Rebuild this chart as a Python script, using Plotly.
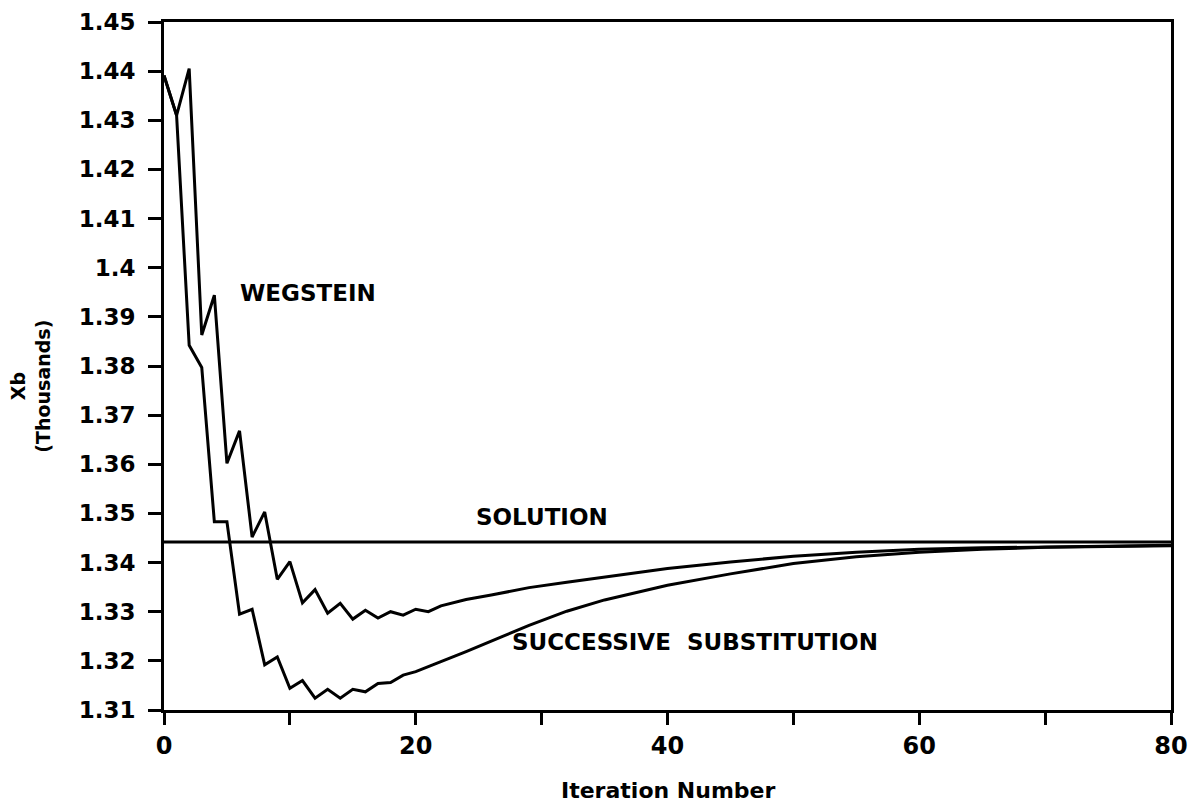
import plotly.graph_objects as go

# ---- data ----
iter_w = [0, 1, 2, 3, 4, 5, 6, 7, 8, 9, 10, 11, 12, 13, 14, 15, 16, 17, 18, 19, 20, 21, 22,
          24, 26, 29, 32, 35, 40, 45, 50, 55, 60, 65, 70, 75, 80]
wegstein = [1.4391, 1.4310, 1.4405, 1.3863, 1.3944, 1.3602, 1.3668, 1.3452, 1.3503, 1.3366,
            1.3402, 1.3318, 1.3345, 1.3297, 1.3317, 1.3285, 1.3303, 1.3287, 1.3300, 1.3293,
            1.3305, 1.3300, 1.3312, 1.3325, 1.3334, 1.3349, 1.3360, 1.3371, 1.3388, 1.3401,
            1.3413, 1.3421, 1.3427, 1.3430, 1.3432, 1.3434, 1.3435]

iter_s = [0, 1, 2, 3, 4, 5, 6, 7, 8, 9, 10, 11, 12, 13, 14, 15, 16, 17, 18, 19, 20, 21,
          24, 27, 29, 32, 35, 40, 45, 50, 55, 60, 65, 70, 75, 80]
successive = [1.4391, 1.4310, 1.3842, 1.3797, 1.3483, 1.3483, 1.3295, 1.3305, 1.3192, 1.3208,
              1.3144, 1.3160, 1.3124, 1.3142, 1.3124, 1.3142, 1.3137, 1.3154, 1.3156, 1.3171,
              1.3178, 1.3188, 1.3219, 1.3251, 1.3272, 1.3301, 1.3324, 1.3354, 1.3377, 1.3398,
              1.3412, 1.3421, 1.3427, 1.3431, 1.3433, 1.3434]

solution_x = [0, 80]
solution_y = [1.3442, 1.3442]

y_ticks = [1.31, 1.32, 1.33, 1.34, 1.35, 1.36, 1.37, 1.38, 1.39, 1.40, 1.41, 1.42, 1.43, 1.44, 1.45]
y_ticktext = ["1.31", "1.32", "1.33", "1.34", "1.35", "1.36", "1.37", "1.38", "1.39", "1.4",
              "1.41", "1.42", "1.43", "1.44", "1.45"]
x_ticks = [0, 10, 20, 30, 40, 50, 60, 70, 80]
x_ticktext = ["0", "", "20", "", "40", "", "60", "", "80"]

labels = ["WEGSTEIN", "SOLUTION", "SUCCESSIVE  SUBSTITUTION"]
label_x = [11.4, 30.0, 42.2]
label_y = [1.3948, 1.3492, 1.3238]

FONT = "DejaVu Sans"
LW = 3

fig = go.Figure()
fig.add_trace(go.Scatter(x=solution_x, y=solution_y, mode="lines", name="Solution",
                         line=dict(color="black", width=LW)))
fig.add_trace(go.Scatter(x=iter_w, y=wegstein, mode="lines", name="Wegstein",
                         line=dict(color="black", width=LW)))
fig.add_trace(go.Scatter(x=iter_s, y=successive, mode="lines", name="Successive substitution",
                         line=dict(color="black", width=LW)))

for t, lx, ly in zip(labels, label_x, label_y):
    fig.add_annotation(x=lx, y=ly, text="<b>" + t + "</b>", showarrow=False,
                       font=dict(family=FONT, size=23, color="black"))

# y-axis title (two rotated lines)
fig.add_annotation(xref="paper", yref="paper", x=0, y=0.47, xshift=-133,
                   xanchor="center", yanchor="middle",
                   text="<b>Xb</b><br><b>(Thousands)</b>", textangle=-90, showarrow=False,
                   font=dict(family=FONT, size=19, color="black"))
# x-axis title
fig.add_annotation(xref="paper", yref="paper", x=0.5, y=0, yshift=-80,
                   xanchor="center", yanchor="middle",
                   text="<b>Iteration Number</b>", showarrow=False,
                   font=dict(family=FONT, size=22, color="black"))

fig.update_layout(
    width=1188, height=798,
    margin=dict(l=156, r=25, t=14, b=96, autoexpand=False),
    plot_bgcolor="white", paper_bgcolor="white",
    showlegend=False,
    font=dict(family=FONT, color="black"),
)
fig.update_xaxes(range=[0, 80], tickvals=x_ticks, ticktext=x_ticktext,
                 ticks="outside", ticklen=12, tickwidth=3, tickcolor="black",
                 showline=True, linewidth=3, linecolor="black", mirror=True,
                 showgrid=False, zeroline=False, automargin=False,
                 tickfont=dict(family=FONT, size=24, color="black", weight="bold"))
fig.update_yaxes(range=[1.31, 1.45], tickvals=y_ticks, ticktext=y_ticktext,
                 ticks="outside", ticklen=13, tickwidth=3, tickcolor="black",
                 showline=True, linewidth=3, linecolor="black", mirror=True,
                 showgrid=False, zeroline=False, automargin=False,
                 ticklabelstandoff=8,
                 tickfont=dict(family=FONT, size=23, color="black", weight="bold"))

fig.write_html("out.html")
